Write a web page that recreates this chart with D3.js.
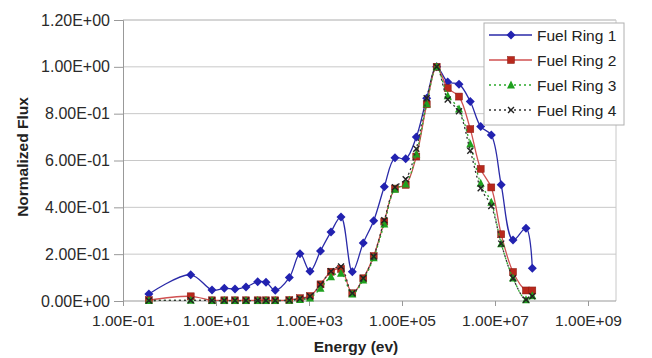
<!DOCTYPE html>
<html>
<head>
<meta charset="utf-8">
<script src="https://cdn.jsdelivr.net/npm/d3@7"></script>
<style>
  body { margin: 0; background: #fff; }
  svg { display: block; font-family: "Liberation Sans", Arial, sans-serif; }
</style>
</head>
<body>
<div id="chart"></div>
<script>
// Energy group points (eV)
const energy = [0.36, 2.86, 8.2, 15.1, 25.6, 44.2, 78.8, 119, 188, 377, 640, 1050, 1770, 2970, 4880,
  8530, 14700, 24600, 41600, 70600, 120000, 203000, 340000, 557000, 961000, 1.68e6, 2.94e6, 4.92e6,
  8.32e6, 1.36e7, 2.44e7, 4.64e7, 6.34e7];

const ring1 = [0.03, 0.112, 0.047, 0.054, 0.051, 0.06, 0.082, 0.08, 0.046, 0.1, 0.202, 0.127, 0.214, 0.295, 0.359,
  0.125, 0.248, 0.343, 0.488, 0.612, 0.607, 0.70, 0.866, 1.0, 0.935, 0.926, 0.852, 0.745, 0.709, 0.496, 0.26, 0.311, 0.14];
const ring2 = [0.004, 0.02, 0.003, 0.003, 0.003, 0.003, 0.003, 0.003, 0.003, 0.004, 0.012, 0.021, 0.071, 0.125, 0.137,
  0.033, 0.097, 0.192, 0.339, 0.48, 0.496, 0.617, 0.84, 1.0, 0.909, 0.873, 0.734, 0.564, 0.485, 0.285, 0.124, 0.045, 0.045];
const ring3 = [0.002, 0.003, 0.002, 0.002, 0.002, 0.002, 0.002, 0.002, 0.002, 0.003, 0.006, 0.013, 0.054, 0.104, 0.118,
  0.03, 0.09, 0.185, 0.329, 0.477, 0.5, 0.628, 0.842, 1.0, 0.877, 0.82, 0.67, 0.503, 0.422, 0.245, 0.098, 0.005, 0.022];
const ring4 = [0.002, 0.003, 0.002, 0.002, 0.002, 0.002, 0.002, 0.002, 0.002, 0.003, 0.01, 0.02, 0.07, 0.127, 0.147,
  0.033, 0.097, 0.19, 0.345, 0.486, 0.52, 0.65, 0.866, 1.0, 0.861, 0.81, 0.642, 0.482, 0.406, 0.245, 0.097, 0.005, 0.02];

const seriesNames = ["Fuel Ring 1", "Fuel Ring 2", "Fuel Ring 3", "Fuel Ring 4"];
const xTicks = [1e-1, 1e1, 1e3, 1e5, 1e7, 1e9];
const yTicks = [0, 0.2, 0.4, 0.6, 0.8, 1.0, 1.2];

const series = [
  { name: seriesNames[0], values: ring1, line: "#2a2aa8", fill: "#2222b0", dash: null, marker: "diamond" },
  { name: seriesNames[1], values: ring2, line: "#d05050", fill: "#b8281c", dash: null, marker: "square" },
  { name: seriesNames[2], values: ring3, line: "#2aa82a", fill: "#1fa01f", dash: "2,3", marker: "triangle" },
  { name: seriesNames[3], values: ring4, line: "#333", fill: "#222", dash: "2,3", marker: "cross" }
];

const width = 652;
const height = 358;
const plot = { left: 123, top: 20, right: 616, bottom: 301 };

const x = d3.scaleLog().domain([1e-1, 1e9]).range([plot.left, 588]);
const y = d3.scaleLinear().domain([0, 1.2]).range([plot.bottom, plot.top]);

// Excel style "1.00E+03"
function sci(v) {
  if (v === 0) return "0.00E+00";
  const e = Math.floor(Math.log10(v) + 1e-9);
  const m = v / Math.pow(10, e);
  const s = e < 0 ? "-" : "+";
  return m.toFixed(2) + "E" + s + String(Math.abs(e)).padStart(2, "0");
}

const svg = d3.select("#chart").append("svg")
    .attr("width", width)
    .attr("height", height);

svg.append("rect").attr("width", width).attr("height", height).attr("fill", "#fff");

// gridlines
svg.append("g")
  .selectAll("line")
  .data(yTicks.slice(1))
  .enter()
  .append("line")
  .attr("x1", plot.left).attr("x2", plot.right)
  .attr("y1", d => y(d)).attr("y2", d => y(d))
  .attr("stroke", "#c8c8c8");

// plot frame (top and right)
svg.append("path")
  .attr("d", `M${plot.left},${plot.top}H${plot.right}V${plot.bottom}`)
  .attr("fill", "none")
  .attr("stroke", "#c8c8c8");

// axes
const yAxis = svg.append("g")
  .attr("transform", `translate(${plot.left},0)`)
  .call(d3.axisLeft(y).tickValues(yTicks).tickFormat(sci).tickSize(9).tickPadding(4));

const xAxis = svg.append("g")
  .attr("transform", `translate(0,${plot.bottom})`)
  .call(d3.axisBottom(x).tickValues(xTicks).tickFormat(sci).tickSize(5).tickPadding(9));

[yAxis, xAxis].forEach(a => {
  a.select(".domain").attr("stroke", "#999");
  a.selectAll(".tick line").attr("stroke", "#999");
  a.selectAll(".tick text").attr("fill", "#2a2a2a").style("font-size", "15.5px");
});
yAxis.selectAll(".tick text").style("font-size", "16px");
xAxis.select(".domain").attr("d", `M${plot.left},0H${plot.right}`);

// axis titles
svg.append("text")
  .attr("transform", "translate(22,157) rotate(-90)")
  .attr("text-anchor", "middle")
  .attr("dominant-baseline", "central")
  .style("font-size", "15.5px")
  .style("font-weight", "bold")
  .attr("fill", "#222")
  .text("Normalized Flux");

svg.append("text")
  .attr("x", 356)
  .attr("y", 352)
  .attr("text-anchor", "middle")
  .style("font-size", "15.5px")
  .style("font-weight", "bold")
  .attr("fill", "#222")
  .text("Energy (ev)");

const line = d3.line()
  .x(d => x(d[0]))
  .y(d => y(d[1]))
  .curve(d3.curveCatmullRom.alpha(0.5));

function drawMarker(g, s, cx, cy) {
  if (s.marker === "diamond") {
    g.append("path").attr("d", `M${cx},${cy - 4.5}L${cx + 4.5},${cy}L${cx},${cy + 4.5}L${cx - 4.5},${cy}Z`)
      .attr("fill", s.fill);
  } else if (s.marker === "square") {
    g.append("rect").attr("x", cx - 3.5).attr("y", cy - 3.5).attr("width", 7).attr("height", 7)
      .attr("fill", s.fill).attr("stroke", "#8a1a10").attr("stroke-width", 0.5);
  } else if (s.marker === "triangle") {
    g.append("path").attr("d", `M${cx},${cy - 4.5}L${cx + 4},${cy + 3.5}L${cx - 4},${cy + 3.5}Z`)
      .attr("fill", s.fill);
  } else {
    g.append("path").attr("d", `M${cx - 3},${cy - 3}L${cx + 3},${cy + 3}M${cx - 3},${cy + 3}L${cx + 3},${cy - 3}`)
      .attr("stroke", s.fill).attr("stroke-width", 1.4);
  }
}

// series
series.forEach(s => {
  const pts = energy.map((e, i) => [e, s.values[i]]);
  const g = svg.append("g");
  g.append("path")
    .datum(pts)
    .attr("d", line)
    .attr("fill", "none")
    .attr("stroke", s.line)
    .attr("stroke-width", 1.3)
    .attr("stroke-dasharray", s.dash);
  pts.forEach(p => drawMarker(g, s, x(p[0]), y(p[1])));
});

// legend
const legend = svg.append("g");
legend.append("rect")
  .attr("x", 484).attr("y", 23).attr("width", 140).attr("height", 102)
  .attr("fill", "#fff").attr("stroke", "#b0b0b0");

series.forEach((s, i) => {
  const ly = 35 + i * 25;
  const g = legend.append("g");
  g.append("line")
    .attr("x1", 489).attr("x2", 532).attr("y1", ly).attr("y2", ly)
    .attr("stroke", s.line).attr("stroke-width", 1.3)
    .attr("stroke-dasharray", s.dash);
  drawMarker(g, s, 511, ly);
  g.append("text")
    .attr("x", 537).attr("y", ly)
    .attr("dominant-baseline", "central")
    .style("font-size", "15.5px")
    .attr("fill", "#222")
    .text(s.name);
});
</script>
</body>
</html>
